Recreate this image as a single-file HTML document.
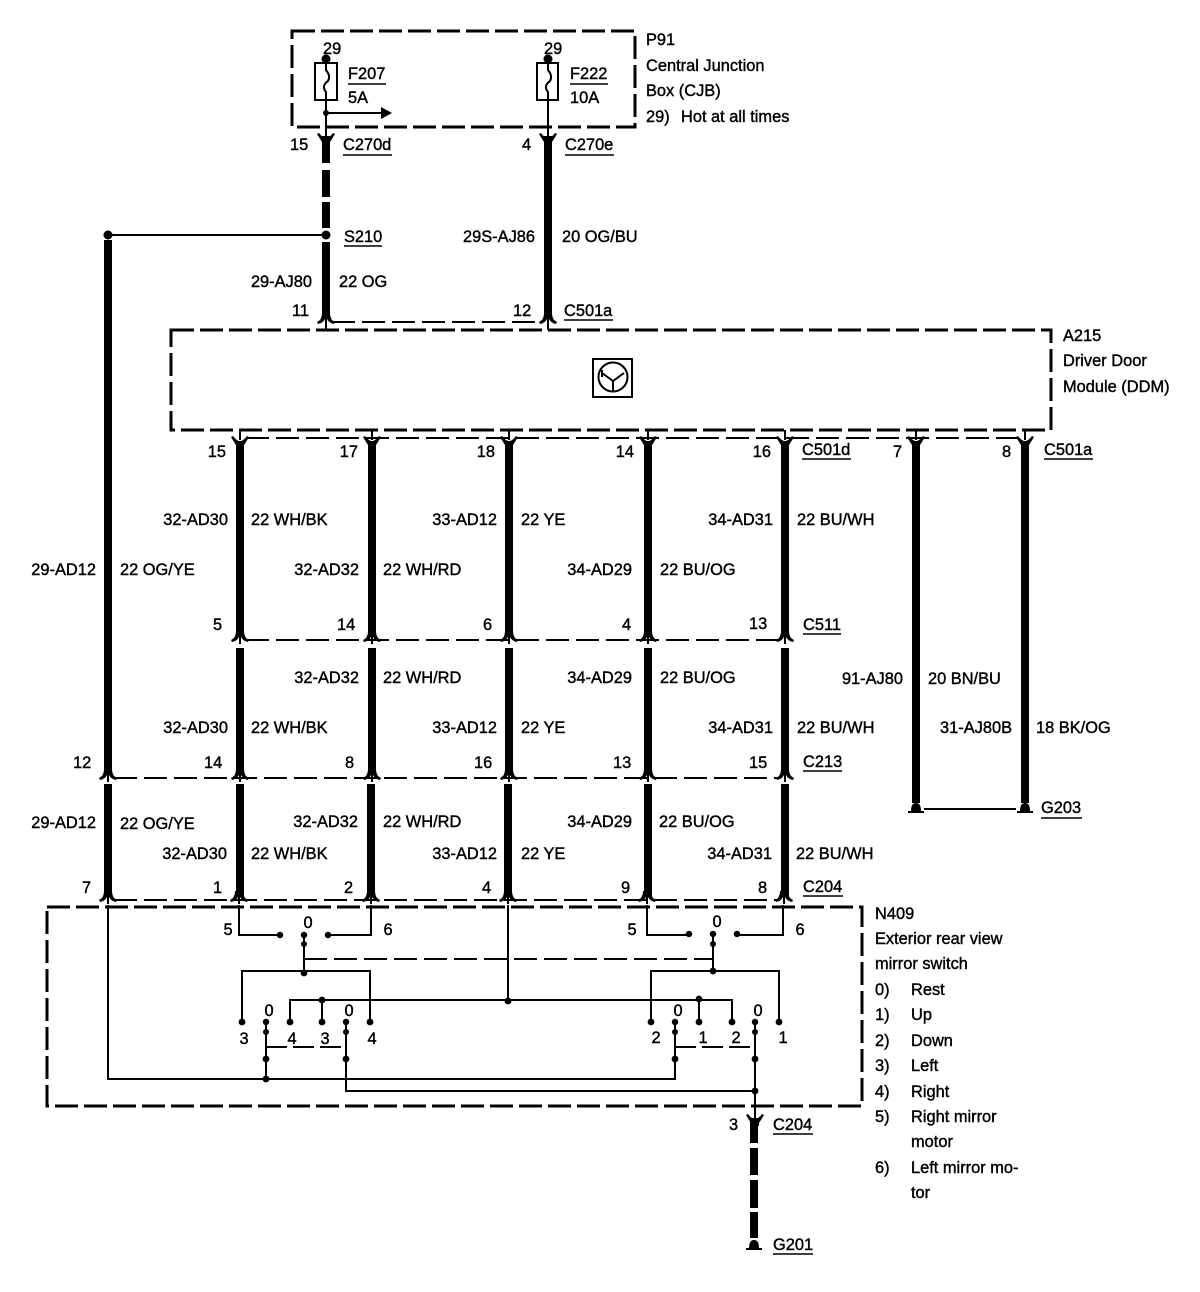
<!DOCTYPE html>
<html><head><meta charset="utf-8"><title>Exterior rear view mirror switch wiring</title>
<style>
html,body{margin:0;padding:0;background:#fff;width:1200px;height:1292px;overflow:hidden}
svg{display:block}
text{font-family:"Liberation Sans",sans-serif;font-size:16.4px;fill:#000;stroke:#000;stroke-width:.4px}
.e{text-anchor:end}
.m{text-anchor:middle}
</style></head><body>
<svg width="1200" height="1292" viewBox="0 0 1200 1292" xmlns="http://www.w3.org/2000/svg">
<defs>
<path id="yf" d="M-9 -5 L-7 -6 Q-4 -2 -1 -1 L1 -1 Q4 -2 7 -6 L9 -5 Q6 0 4 3 L4 6 L-4 6 L-4 3 Q-6 0 -9 -5 Z" fill="#000"/>
<path id="uf" d="M-4 -6 L4 -6 Q4 1 9 3 L8 5 Q3 4 1 0 L1 7 L-1 7 L-1 0 Q-3 4 -8 5 L-9 3 Q-4 1 -4 -6 Z" fill="#000"/>
<path id="gr" d="M-8 5 L-5 5 Q-5 -3 0 -3 Q5 -3 5 5 L8 5 L8 7 L-8 7 Z" fill="#000"/>
</defs>

<!-- boxes -->
<g fill="none" stroke="#000" stroke-width="3" stroke-dasharray="23 6">
<rect x="292" y="31" width="343" height="96"/>
<rect x="171" y="330" width="880" height="100"/>
<rect x="47" y="907" width="815" height="199"/>
</g>

<!-- connector thin dashes -->
<g stroke="#000" stroke-width="2" stroke-dasharray="23 7" fill="none">
<path d="M332 322H542"/>
<path d="M246 438H1020"/>
<path d="M246 640H780"/>
<path d="M114 778H780"/>
<path d="M114 900H780"/>
</g>

<!-- thick wires -->
<g stroke="#000" stroke-width="8" fill="none">
<path d="M326 136V163M326 170V197M326 202V228M326 242V318"/>
<path d="M548 136V318"/>
<path d="M108 240V774M108 784V896"/>
<path d="M240 442V635M240 648V774M240 784V896"/>
<path d="M372 442V635M372 648V774M371 784V896"/>
<path d="M509 442V635M509 648V774M508 784V896"/>
<path d="M648 442V635M648 648V774M648 784V896"/>
<path d="M785 442V635M785 648V774M785 784V896"/>
<path d="M916 442V803"/>
<path d="M1025 442V803"/>
<path d="M754 1118V1143M754 1148V1175M754 1180V1208M754 1212V1238"/>
</g>

<!-- forks -->
<use href="#yf" x="326" y="139"/><use href="#yf" x="548" y="139"/>
<use href="#uf" x="326" y="319"/><use href="#uf" x="548" y="319"/>
<use href="#yf" x="240" y="442"/><use href="#yf" x="372" y="442"/><use href="#yf" x="509" y="442"/><use href="#yf" x="648" y="442"/><use href="#yf" x="785" y="442"/><use href="#yf" x="916" y="442"/><use href="#yf" x="1025" y="442"/>
<use href="#uf" x="240" y="637"/><use href="#uf" x="372" y="637"/><use href="#uf" x="509" y="637"/><use href="#uf" x="648" y="637"/><use href="#uf" x="785" y="637"/>
<use href="#uf" x="108" y="775"/><use href="#uf" x="240" y="775"/><use href="#uf" x="372" y="775"/><use href="#uf" x="509" y="775"/><use href="#uf" x="648" y="775"/><use href="#uf" x="785" y="775"/>
<use href="#uf" x="108" y="897"/><use href="#uf" x="239" y="897"/><use href="#uf" x="371" y="897"/><use href="#uf" x="508" y="897"/><use href="#uf" x="647" y="897"/><use href="#uf" x="784" y="897"/>
<use href="#yf" x="755" y="1120"/>

<!-- thin stubs -->
<g stroke="#000" stroke-width="2" fill="none">
<path d="M326 100V136M548 100V136"/>
<path d="M326 320V330M548 320V330"/>
<path d="M240 430V440M372 430V440M509 430V440M648 430V440M785 430V440M916 430V440M1025 430V440"/>
<path d="M326 113H382"/>
<path d="M108 235H326"/>
<path d="M924 809H1016"/>
</g>
<path d="M381 107L392 113L381 119Z" fill="#000"/>

<!-- fuses -->
<g fill="#fff" stroke="#000" stroke-width="2">
<rect x="315" y="63" width="22" height="37"/>
<rect x="537" y="63" width="21" height="37"/>
</g>
<g fill="none" stroke="#000" stroke-width="2">
<path d="M326 60V70Q331 76 328 81Q321 86 326 92V100"/>
<path d="M548 60V70Q553 76 550 81Q543 86 548 92V100"/>
</g>
<g fill="#000">
<circle cx="326" cy="59" r="4.5"/><circle cx="548" cy="59" r="4.5"/>
<circle cx="326" cy="113" r="3"/>
<circle cx="326" cy="235" r="4.5"/><circle cx="108" cy="235" r="4.5"/>
</g>

<!-- DDM icon -->
<rect x="593" y="359" width="39" height="38" fill="none" stroke="#000" stroke-width="2"/>
<circle cx="613" cy="377" r="14.5" fill="none" stroke="#000" stroke-width="2"/>
<path d="M613 391V381M602 373L613 381L624 373M602 370V377" fill="none" stroke="#000" stroke-width="2"/>

<!-- grounds -->
<use href="#gr" x="916" y="806"/><use href="#gr" x="1025" y="806"/><use href="#gr" x="754" y="1243"/>

<!-- switch wiring -->
<g fill="none" stroke="#000" stroke-width="2">
<path d="M108 905V1079H675V1059"/>
<path d="M346 1022V1091H755"/>
<path d="M239 905V935H280"/>
<path d="M371 905V935H328"/>
<path d="M647 905V935H689"/>
<path d="M783 905V935H737"/>
<path d="M304 935V973"/>
<path d="M242 1022V971H370V1022"/>
<path d="M713 934V971"/>
<path d="M651 1022V971H779V1022"/>
<path d="M508 905V1000"/>
<path d="M290 1022V1000H732V1022"/>
<path d="M322 1000V1022M699 1000V1022"/>
<path d="M266 1022V1079"/>
<path d="M675 1022V1059"/>
<path d="M755 1022V1118"/>
<path d="M304 959H713" stroke-dasharray="23 7"/>
<path d="M266 1047H346" stroke-dasharray="21 6"/>
<path d="M675 1047H755" stroke-dasharray="21 6"/>
</g>
<g fill="#000">
<circle cx="280" cy="935" r="3.2"/><circle cx="328" cy="935" r="3.2"/><circle cx="304" cy="935" r="3.2"/><circle cx="304" cy="944" r="3"/><circle cx="304" cy="973" r="3.4"/>
<circle cx="689" cy="934" r="3.2"/><circle cx="737" cy="934" r="3.2"/><circle cx="713" cy="934" r="3.2"/><circle cx="713" cy="944" r="3"/><circle cx="713" cy="971" r="3.4"/>
<circle cx="242" cy="1022" r="3.4"/><circle cx="266" cy="1022" r="3.2"/><circle cx="266" cy="1032" r="3"/><circle cx="290" cy="1022" r="3.4"/><circle cx="322" cy="1022" r="3.4"/><circle cx="346" cy="1022" r="3.2"/><circle cx="346" cy="1032" r="3"/><circle cx="370" cy="1022" r="3.4"/>
<circle cx="651" cy="1022" r="3.4"/><circle cx="675" cy="1022" r="3.2"/><circle cx="675" cy="1032" r="3"/><circle cx="699" cy="1022" r="3.4"/><circle cx="732" cy="1022" r="3.4"/><circle cx="755" cy="1022" r="3.2"/><circle cx="755" cy="1032" r="3"/><circle cx="779" cy="1022" r="3.4"/>
<circle cx="322" cy="1000" r="3.4"/><circle cx="508" cy="1001" r="3.4"/><circle cx="699" cy="999" r="3.4"/>
<circle cx="266" cy="1059" r="3.4"/><circle cx="346" cy="1059" r="3.4"/><circle cx="675" cy="1059" r="3.4"/><circle cx="755" cy="1059" r="3.4"/>
<circle cx="266" cy="1079" r="3.4"/><circle cx="755" cy="1091" r="3.4"/>
</g>

<!-- underlines -->
<g stroke="#000" stroke-width="1.6" fill="none">
<path d="M348 84H386M570 84H608"/>
<path d="M343 155H392M565 155H614"/>
<path d="M344 246H382"/>
<path d="M564 320H613"/>
<path d="M802 459H851M1044 459H1093"/>
<path d="M803 634H841"/>
<path d="M803 771H842"/>
<path d="M1041 818H1082"/>
<path d="M803 896H843"/>
<path d="M773 1134H813"/>
<path d="M773 1254H813"/>
</g>

<!-- top labels -->
<text x="323" y="54">29</text>
<text x="544" y="54">29</text>
<text x="348" y="79">F207</text>
<text x="348" y="103">5A</text>
<text x="570" y="79">F222</text>
<text x="570" y="103">10A</text>
<text x="646" y="45">P91</text>
<text x="646" y="71">Central Junction</text>
<text x="646" y="96">Box (CJB)</text>
<text x="646" y="122">29)</text>
<text x="681" y="122">Hot at all times</text>
<text x="290" y="150">15</text>
<text x="343" y="150">C270d</text>
<text x="522" y="150">4</text>
<text x="565" y="150">C270e</text>
<text x="344" y="242">S210</text>
<text class="e" x="535" y="242">29S-AJ86</text>
<text x="562" y="242">20 OG/BU</text>
<text class="e" x="312" y="287">29-AJ80</text>
<text x="339" y="287">22 OG</text>
<text x="292" y="316">11</text>
<text x="513" y="316">12</text>
<text x="564" y="316">C501a</text>
<text x="1063" y="341">A215</text>
<text x="1063" y="366">Driver Door</text>
<text x="1063" y="392">Module (DDM)</text>

<!-- row: C501 -->
<text class="e" x="226" y="457">15</text>
<text class="e" x="358" y="457">17</text>
<text class="e" x="495" y="457">18</text>
<text class="e" x="634" y="457">14</text>
<text class="e" x="771" y="457">16</text>
<text x="802" y="455">C501d</text>
<text x="893" y="457">7</text>
<text x="1002" y="457">8</text>
<text x="1044" y="455">C501a</text>

<text class="e" x="228" y="525">32-AD30</text>
<text x="251" y="525">22 WH/BK</text>
<text class="e" x="497" y="525">33-AD12</text>
<text x="521" y="525">22 YE</text>
<text class="e" x="773" y="525">34-AD31</text>
<text x="797" y="525">22 BU/WH</text>

<text class="e" x="96" y="575">29-AD12</text>
<text x="120" y="575">22 OG/YE</text>
<text class="e" x="359" y="575">32-AD32</text>
<text x="383" y="575">22 WH/RD</text>
<text class="e" x="632" y="575">34-AD29</text>
<text x="660" y="575">22 BU/OG</text>

<text x="213" y="630">5</text>
<text x="337" y="630">14</text>
<text x="483" y="630">6</text>
<text x="622" y="630">4</text>
<text x="749" y="629">13</text>
<text x="803" y="630">C511</text>

<text class="e" x="359" y="683">32-AD32</text>
<text x="383" y="683">22 WH/RD</text>
<text class="e" x="632" y="683">34-AD29</text>
<text x="660" y="683">22 BU/OG</text>
<text class="e" x="903" y="684">91-AJ80</text>
<text x="928" y="684">20 BN/BU</text>

<text class="e" x="228" y="733">32-AD30</text>
<text x="251" y="733">22 WH/BK</text>
<text class="e" x="497" y="733">33-AD12</text>
<text x="521" y="733">22 YE</text>
<text class="e" x="773" y="733">34-AD31</text>
<text x="797" y="733">22 BU/WH</text>
<text class="e" x="1012" y="733">31-AJ80B</text>
<text x="1036" y="733">18 BK/OG</text>

<text x="73" y="768">12</text>
<text x="204" y="768">14</text>
<text x="345" y="768">8</text>
<text x="474" y="768">16</text>
<text x="613" y="768">13</text>
<text x="749" y="768">15</text>
<text x="803" y="767">C213</text>
<text x="1041" y="813">G203</text>

<text class="e" x="96" y="828">29-AD12</text>
<text x="120" y="829">22 OG/YE</text>
<text class="e" x="358" y="827">32-AD32</text>
<text x="383" y="827">22 WH/RD</text>
<text class="e" x="632" y="827">34-AD29</text>
<text x="659" y="827">22 BU/OG</text>

<text class="e" x="227" y="859">32-AD30</text>
<text x="251" y="859">22 WH/BK</text>
<text class="e" x="497" y="859">33-AD12</text>
<text x="521" y="859">22 YE</text>
<text class="e" x="772" y="859">34-AD31</text>
<text x="796" y="859">22 BU/WH</text>

<text x="82" y="893">7</text>
<text x="213" y="893">1</text>
<text x="344" y="893">2</text>
<text x="482" y="893">4</text>
<text x="621" y="893">9</text>
<text x="758" y="893">8</text>
<text x="803" y="892">C204</text>

<!-- switch labels -->
<text class="m" x="228" y="935">5</text>
<text class="m" x="308" y="928">0</text>
<text class="m" x="388" y="935">6</text>
<text class="m" x="632" y="935">5</text>
<text class="m" x="717" y="927">0</text>
<text class="m" x="800" y="935">6</text>
<text class="m" x="269" y="1016">0</text>
<text class="m" x="349" y="1016">0</text>
<text class="m" x="678" y="1016">0</text>
<text class="m" x="758" y="1016">0</text>
<text class="m" x="244" y="1044">3</text>
<text class="m" x="292" y="1044">4</text>
<text class="m" x="325" y="1044">3</text>
<text class="m" x="372" y="1044">4</text>
<text class="m" x="656" y="1043">2</text>
<text class="m" x="703" y="1043">1</text>
<text class="m" x="736" y="1043">2</text>
<text class="m" x="783" y="1043">1</text>

<!-- N409 legend -->
<text x="875" y="919">N409</text>
<text x="875" y="944">Exterior rear view</text>
<text x="875" y="969">mirror switch</text>
<text x="875" y="995">0)</text><text x="911" y="995">Rest</text>
<text x="875" y="1020">1)</text><text x="911" y="1020">Up</text>
<text x="875" y="1046">2)</text><text x="911" y="1046">Down</text>
<text x="875" y="1071">3)</text><text x="911" y="1071">Left</text>
<text x="875" y="1097">4)</text><text x="911" y="1097">Right</text>
<text x="875" y="1122">5)</text><text x="911" y="1122">Right mirror</text>
<text x="911" y="1147">motor</text>
<text x="875" y="1173">6)</text><text x="911" y="1173">Left mirror mo-</text>
<text x="911" y="1198">tor</text>

<text x="729" y="1130">3</text>
<text x="773" y="1130">C204</text>
<text x="773" y="1250">G201</text>
</svg>
</body></html>
